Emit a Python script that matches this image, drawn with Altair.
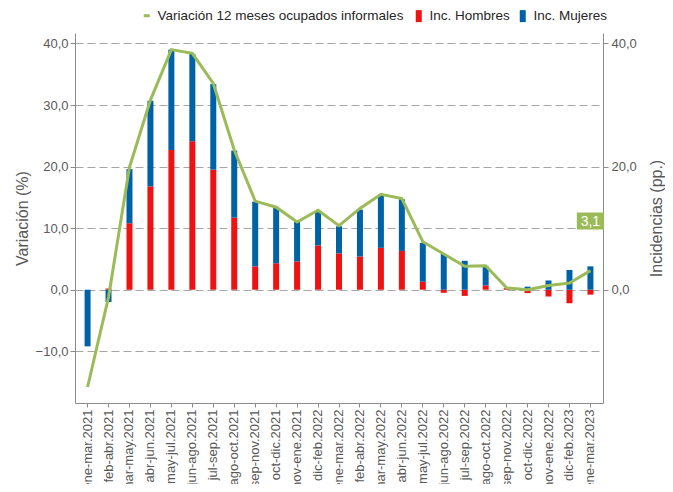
import altair as alt
import pandas as pd

cats = ["ene-mar.2021", "feb-abr.2021", "mar-may.2021", "abr-jun.2021", "may-jul.2021",
        "jun-ago.2021", "jul-sep.2021", "ago-oct.2021", "sep-nov.2021", "oct-dic.2021",
        "nov-ene.2021", "dic-feb.2022", "ene-mar.2022", "feb-abr.2022", "mar-may.2022",
        "abr-jun.2022", "may-jul.2022", "jun-ago.2022", "jul-sep.2022", "ago-oct.2022",
        "sep-nov.2022", "oct-dic.2022", "nov-ene.2022", "dic-feb.2023", "ene-mar.2023"]

variacion = [-15.8, -1.2, 19.9, 30.8, 39.0, 38.4, 33.5, 22.7, 14.4, 13.4,
             11.0, 12.9, 10.4, 13.2, 15.5, 14.8, 7.8, 5.8, 3.8, 3.9,
             0.3, 0.0, 0.7, 1.1, 3.1]

hombres = [0.0, 0.2, 10.8, 16.8, 22.7, 24.1, 19.5, 11.7, 3.8, 4.3,
           4.6, 7.2, 5.9, 5.4, 6.8, 6.3, 1.3, -0.5, -1.0, 0.7,
           0.25, -0.55, -1.1, -2.2, -0.8]

mujeres = [-9.2, -2.0, 8.8, 13.9, 16.3, 14.2, 13.9, 10.9, 10.5, 9.0,
           6.4, 5.6, 4.4, 7.6, 8.6, 8.4, 6.3, 5.8, 4.7, 3.1,
           0.0, 0.5, 1.5, 3.2, 3.8]

line_name = "Variación 12 meses ocupados informales"
ser_h = "Inc. Hombres"
ser_m = "Inc. Mujeres"

RED = "#EE1212"
BLUE = "#0062A6"
GREEN = "#9BBB59"
AXIS_GRAY = "#8C8C8C"
TXT = "#595959"

rows = []
for c, h, m in zip(cats, hombres, mujeres):
    rows.append({"cat": c, "serie": ser_h, "orden": 0, "valor": h})
    rows.append({"cat": c, "serie": ser_m, "orden": 1, "valor": m})
df_bars = pd.DataFrame(rows)
df_line = pd.DataFrame({"cat": cats, "var": variacion, "serie": line_name})
df_lab = pd.DataFrame({"cat": [cats[-1]],
                       "txt": [f"{variacion[-1]:.1f}".replace(".", ",")]})

domain = [-18.4, 41.7]
fmt = "replace(format(datum.value, '.1f'), '.', ',')"

xenc = alt.X("cat:N", sort=cats, title=None,
             scale=alt.Scale(paddingInner=0, paddingOuter=0.1),
             axis=alt.Axis(labelAngle=270, labelFontSize=13, labelColor=TXT,
                           labelFont="Liberation Sans", domainColor=AXIS_GRAY,
                           tickColor=AXIS_GRAY, tickSize=4, labelPadding=2,
                           grid=False))

bars = alt.Chart(df_bars).mark_bar(size=6).encode(
    x=xenc,
    y=alt.Y("valor:Q", stack="zero",
            scale=alt.Scale(domain=domain, nice=False, zero=False),
            axis=alt.Axis(orient="right", values=[0, 20, 40], labelExpr=fmt,
                          title="Incidencias (pp.)", titleAngle=270,
                          titleFontSize=16, titleFontWeight="normal",
                          titleColor=TXT, titleFont="Liberation Sans",
                          titlePadding=28, labelFontSize=13, labelColor=TXT,
                          labelFont="Liberation Sans", labelPadding=3,
                          domainColor=AXIS_GRAY, tickColor=AXIS_GRAY,
                          tickSize=5, grid=False)),
    fill=alt.Fill("serie:N",
                  scale=alt.Scale(domain=[ser_h, ser_m], range=[RED, BLUE]),
                  legend=alt.Legend(title=None, orient="none", legendX=337,
                                    legendY=-24, direction="horizontal",
                                    symbolType="M-0.5,-1H0.5V1H-0.5Z",
                                    symbolSize=144, symbolStrokeWidth=0,
                                    labelFontSize=13.5, labelColor="#262626",
                                    labelFont="Liberation Sans", labelLimit=0,
                                    columnPadding=6, symbolOffset=0)),
    order=alt.Order("orden:Q"),
)

line = alt.Chart(df_line).mark_line(strokeWidth=3).encode(
    x=alt.X("cat:N", sort=cats),
    y=alt.Y("var:Q",
            scale=alt.Scale(domain=domain, nice=False, zero=False),
            axis=alt.Axis(orient="left", values=[-10, 0, 10, 20, 30, 40],
                          labelExpr=fmt, title="Variación (%)", titleAngle=270,
                          titleFontSize=16, titleFontWeight="normal",
                          titleColor=TXT, titleFont="Liberation Sans",
                          titlePadding=5, labelFontSize=13, labelColor=TXT,
                          labelFont="Liberation Sans", labelPadding=2,
                          domainColor=AXIS_GRAY, tickColor=AXIS_GRAY, tickSize=5,
                          grid=True, gridColor="#A6A6A6", gridDash=[8, 4],
                          gridWidth=1.2)),
    stroke=alt.Stroke("serie:N", scale=alt.Scale(domain=[line_name], range=[GREEN]),
                      legend=alt.Legend(title=None, orient="none", legendX=65,
                                        legendY=-24, symbolType="stroke",
                                        symbolStrokeWidth=3, symbolSize=36,
                                        labelFontSize=13.5, labelColor="#262626",
                                        labelFont="Liberation Sans", labelLimit=0)),
)

box = alt.Chart(df_lab).mark_point(
    shape="M-1.6,-1H1.6V1H-1.6Z", filled=True, opacity=1, color=GREEN, size=289
).encode(x=alt.X("cat:N", sort=cats), y=alt.value(188))

label = alt.Chart(df_lab).mark_text(
    color="white", fontSize=14, font="Liberation Sans", align="center", baseline="middle"
).encode(x=alt.X("cat:N", sort=cats), y=alt.value(189), text="txt:N")

chart = alt.layer(bars, line, box, label).resolve_scale(
    y="independent", fill="independent", stroke="independent"
).properties(
    width=528, height=370,
    autosize=alt.AutoSizeParams(type="none"),
    padding={"left": 67, "top": 25, "right": 62, "bottom": 81},
).configure_view(strokeWidth=0)

chart.save("out.html", embed_options={"renderer": "svg", "actions": False})
